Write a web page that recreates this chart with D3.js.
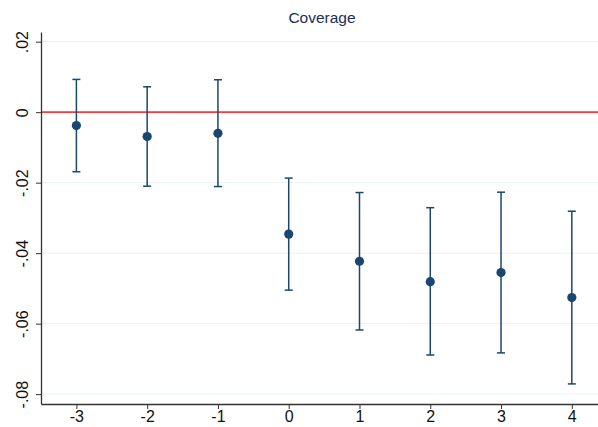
<!DOCTYPE html>
<html>
<head>
<meta charset="utf-8">
<script src="https://d3js.org/d3.v7.min.js"></script>
<style>
  body { margin: 0; background: #fff; }
  svg { display: block; font-family: Arial, "Liberation Sans", sans-serif; }
</style>
</head>
<body>
<svg id="chart"></svg>
<script>
// event time, point estimate, CI bounds
var periods = [-3, -2, -1, 0, 1, 2, 3, 4];
var estimates = [-0.0038, -0.0069, -0.0060, -0.0346, -0.0423, -0.0481, -0.0455, -0.0526];
var upper = [0.0093, 0.0072, 0.0092, -0.0187, -0.0228, -0.0271, -0.0227, -0.0281];
var lower = [-0.0169, -0.0210, -0.0211, -0.0505, -0.0618, -0.0689, -0.0683, -0.0771];
var yTicks = [0.02, 0, -0.02, -0.04, -0.06, -0.08];
var yTickLabels = [".02", "0", "-.02", "-.04", "-.06", "-.08"];
var title = "Coverage";

var svgWidth = 598, svgHeight = 427;
var margin = { top: 32, right: 0, bottom: 23, left: 41 };
var width = svgWidth - margin.left - margin.right;
var height = svgHeight - margin.top - margin.bottom;

var navy = "#1a476f";

var svg = d3.select("#chart")
  .attr("width", svgWidth)
  .attr("height", svgHeight);

var g = svg.append("g")
  .attr("transform", "translate(" + margin.left + "," + margin.top + ")");

var x = d3.scaleLinear().domain([-3.5, 4.37]).range([0, width]);
var y = d3.scaleLinear().domain([-0.0828, 0.02275]).range([height, 0]);

// grid
g.selectAll("line.grid")
  .data(yTicks)
  .enter().append("line")
  .attr("class", "grid")
  .attr("x1", 0).attr("x2", width)
  .attr("y1", function(d) { return y(d); })
  .attr("y2", function(d) { return y(d); })
  .attr("stroke", "#eaf2f3")
  .attr("stroke-width", 1);

// zero line
g.append("line")
  .attr("x1", 0).attr("x2", width)
  .attr("y1", y(0)).attr("y2", y(0))
  .attr("stroke", "#f03c3f")
  .attr("stroke-width", 1.8);

// axes
var yAxis = g.append("g")
  .call(d3.axisLeft(y).tickValues(yTicks).tickSize(5).tickSizeOuter(0)
    .tickFormat(function(d, i) { return yTickLabels[i]; }));
yAxis.select(".domain").attr("stroke", "#333").attr("stroke-width", 1.3);
yAxis.selectAll(".tick line").attr("stroke", "#333");
yAxis.selectAll(".tick text")
  .attr("font-size", 16)
  .attr("fill", "#111")
  .attr("transform", "rotate(-90)")
  .attr("x", 0)
  .attr("y", -13)
  .attr("dy", 0)
  .attr("text-anchor", "middle");

var xAxis = g.append("g")
  .attr("transform", "translate(0," + height + ")")
  .call(d3.axisBottom(x).tickValues(periods).tickSize(5).tickSizeOuter(0)
    .tickFormat(d3.format("d")));
xAxis.select(".domain").attr("stroke", "#333").attr("stroke-width", 1.3);
xAxis.selectAll(".tick line").attr("stroke", "#333");
xAxis.selectAll(".tick text")
  .attr("font-size", 16)
  .attr("fill", "#111")
  .attr("y", 7)
  .attr("dy", "0.71em")
  .text(function(d) { return d < 0 ? "-" + Math.abs(d) : d; });

// error bars
var bars = g.selectAll("g.bar")
  .data(periods)
  .enter().append("g")
  .attr("class", "bar");

bars.append("line")
  .attr("x1", function(d) { return x(d); })
  .attr("x2", function(d) { return x(d); })
  .attr("y1", function(d, i) { return y(upper[i]); })
  .attr("y2", function(d, i) { return y(lower[i]); })
  .attr("stroke", navy).attr("stroke-width", 1.5);

bars.append("line")
  .attr("x1", function(d) { return x(d) - 4; })
  .attr("x2", function(d) { return x(d) + 4; })
  .attr("y1", function(d, i) { return y(upper[i]); })
  .attr("y2", function(d, i) { return y(upper[i]); })
  .attr("stroke", navy).attr("stroke-width", 1.5);

bars.append("line")
  .attr("x1", function(d) { return x(d) - 4; })
  .attr("x2", function(d) { return x(d) + 4; })
  .attr("y1", function(d, i) { return y(lower[i]); })
  .attr("y2", function(d, i) { return y(lower[i]); })
  .attr("stroke", navy).attr("stroke-width", 1.5);

// points
g.selectAll("circle")
  .data(periods)
  .enter().append("circle")
  .attr("cx", function(d) { return x(d); })
  .attr("cy", function(d, i) { return y(estimates[i]); })
  .attr("r", 4.6)
  .attr("fill", navy);

// title
svg.append("text")
  .attr("x", 322)
  .attr("y", 23)
  .attr("text-anchor", "middle")
  .attr("font-size", 15.5)
  .attr("fill", "#1e2d5a")
  .text(title);
</script>
</body>
</html>
